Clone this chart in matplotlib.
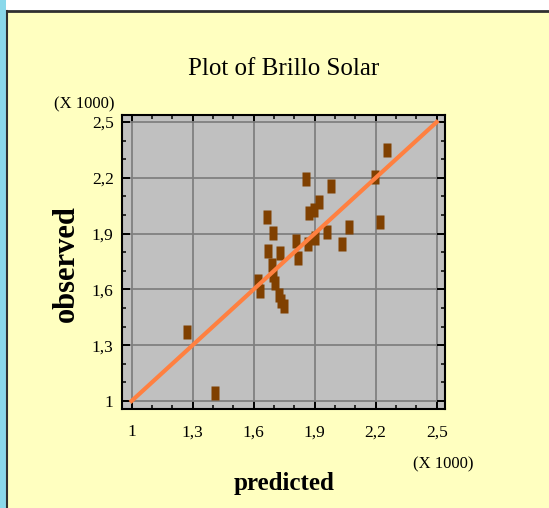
import matplotlib
matplotlib.use("Agg")
import matplotlib.pyplot as plt
from matplotlib.patches import Rectangle
from matplotlib.lines import Line2D

# values in thousands, as shown on the axes
predicted = [1.859, 1.982, 1.923, 1.897, 1.871, 1.664, 1.697, 2.070, 2.221, 2.195,
             1.962, 1.900, 1.866, 1.807, 2.033, 1.671, 1.728, 1.820, 1.689, 1.695,
             1.704, 1.623, 1.631, 1.726, 1.733, 1.751, 2.254, 1.274, 1.410]
observed = [2.193, 2.157, 2.072, 2.025, 2.013, 1.989, 1.901, 1.937, 1.962, 2.207,
            1.908, 1.878, 1.842, 1.858, 1.842, 1.806, 1.797, 1.768, 1.729, 1.680,
            1.635, 1.644, 1.590, 1.572, 1.536, 1.509, 2.351, 1.371, 1.045]
fit_x = [1.0, 2.5]
fit_y = [1.0, 2.5]
tick_values = [1.0, 1.3, 1.6, 1.9, 2.2, 2.5]
tick_labels = ["1", "1,3", "1,6", "1,9", "2,2", "2,5"]
minor_values = [1.1, 1.2, 1.4, 1.5, 1.7, 1.8, 2.0, 2.1, 2.3, 2.4]

W, H = 549, 508
serif = "Liberation Serif"

fig = plt.figure(figsize=(W / 100, H / 100), dpi=100, facecolor="#ffffc0")

# window frame bits
fig.patches.append(Rectangle((0, 1 - 11 / H), 1, 11 / H, transform=fig.transFigure,
                             facecolor="white", edgecolor="none", zorder=0))
fig.patches.append(Rectangle((0, 0), 6 / W, 1, transform=fig.transFigure,
                             facecolor="#8ad8ea", edgecolor="none", zorder=1))
fig.lines.append(Line2D([7 / W, 7 / W], [0, 1 - 11 / H], transform=fig.transFigure,
                        color="#303030", lw=1.5))
fig.lines.append(Line2D([7 / W, 1], [1 - 11 / H, 1 - 11 / H], transform=fig.transFigure,
                        color="#303030", lw=2))

ax = fig.add_axes([122 / W, 1 - 409 / H, 323 / W, 294 / H])
ax.set_facecolor("#c0c0c0")
ax.set_xlim(0.953, 2.541)
ax.set_ylim(0.957, 2.538)

ax.grid(True, color="#808080", lw=1.3, zorder=0)
ax.set_axisbelow(True)

box = [(-0.28, -0.5), (0.28, -0.5), (0.28, 0.5), (-0.28, 0.5)]
ax.plot(predicted, observed, ls="none", marker=box, ms=9.6, mec="none",
        mfc="#804000", zorder=3)
ax.plot(fit_x, fit_y, color="#ff8040", lw=3, zorder=4)

ax.set_xticks(tick_values, tick_labels)
ax.set_yticks(tick_values, tick_labels)
ax.set_xticks(minor_values, minor=True)
ax.set_yticks(minor_values, minor=True)
ax.tick_params(which="both", direction="in", top=True, right=True, color="black")
ax.tick_params(which="major", length=6, width=1.4)
ax.tick_params(which="minor", length=3.2, width=1.1)
ax.tick_params(axis="x", pad=11)
ax.tick_params(axis="y", pad=6)
for lab in ax.get_xticklabels() + ax.get_yticklabels():
    lab.set_fontfamily(serif)
    lab.set_fontsize(12.5)
for sp in ax.spines.values():
    sp.set_linewidth(1.5)

fig.text(283.5 / W, 1 - 75 / H, "Plot of Brillo Solar", family=serif, fontsize=18,
         ha="center", va="baseline")
fig.text(115 / W, 1 - 108 / H, "(X 1000)", family=serif, fontsize=12,
         ha="right", va="baseline")
fig.text(443 / W, 1 - 468 / H, "(X 1000)", family=serif, fontsize=12,
         ha="center", va="baseline")
fig.text(284 / W, 1 - 490 / H, "predicted", family=serif, fontsize=18,
         fontweight="bold", ha="center", va="baseline")
fig.text(66 / W, 1 - 264 / H, "observed", family=serif, fontsize=22,
         fontweight="bold", rotation=90, ha="center", va="center")

fig.savefig("out.png", dpi=100, facecolor=fig.get_facecolor())
